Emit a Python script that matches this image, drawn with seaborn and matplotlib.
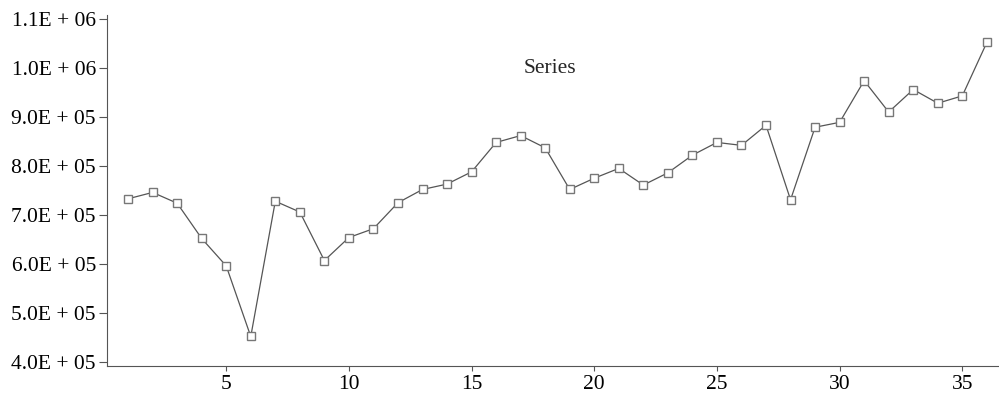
import matplotlib
matplotlib.use("Agg")
from matplotlib import pyplot as plt, ticker
import seaborn as sns
import pandas as pd

# values
x_values = list(range(1, 37))
series_values = [733e3, 746e3, 724e3, 652e3, 596e3, 452e3, 728e3, 706e3, 607e3,
                 654e3, 672e3, 725e3, 752e3, 763e3, 788e3, 848e3, 862e3, 837e3,
                 752e3, 775e3, 795e3, 761e3, 786e3, 822e3, 848e3, 842e3, 883e3,
                 731e3, 879e3, 889e3, 974e3, 910e3, 956e3, 928e3, 943e3, 1052e3]
y_ticks = [4e5, 5e5, 6e5, 7e5, 8e5, 9e5, 1e6, 1.1e6]
x_ticks = [5, 10, 15, 20, 25, 30, 35]

df = pd.DataFrame({"x": x_values, "value": series_values})

sns.set_style("ticks")
plt.rcParams['font.family'] = ['Liberation Serif', 'DejaVu Serif']

fig = plt.figure(figsize=(9.99, 3.93), dpi=100)
ax = fig.add_axes([0.1071, 0.0687, 0.893, 0.8931])

sns.lineplot(data=df, x="x", y="value", ax=ax, color="#555555", linewidth=0.9,
             marker="s", markersize=5.5, markerfacecolor="white",
             markeredgecolor="#777777", markeredgewidth=1.0)

ax.set_xlim(0.14, 36.5)
ax.set_ylim(391.8e3, 1108e3)
ax.set_xticks(x_ticks)
ax.set_yticks(y_ticks)


def sci_fmt(v, pos):
    mant, exp = f"{v:.1E}".split("E")
    return f"{mant}E + {int(exp):02d}"


ax.yaxis.set_major_formatter(ticker.FuncFormatter(sci_fmt))
ax.tick_params(axis="both", labelsize=15.5, width=0.8, color="#555555",
               labelcolor="black")
ax.tick_params(axis="y", length=6, pad=2)
ax.tick_params(axis="x", length=3.5, pad=3)
for side in ["top", "right"]:
    ax.spines[side].set_visible(False)
for side in ["left", "bottom"]:
    ax.spines[side].set_color("#555555")
    ax.spines[side].set_linewidth(0.8)

ax.set_xlabel("")
ax.set_ylabel("")
ax.text(0.497, 0.849, "Series", transform=ax.transAxes, ha="center", va="center",
        fontsize=15.5)

fig.savefig("out.png", dpi=100)
